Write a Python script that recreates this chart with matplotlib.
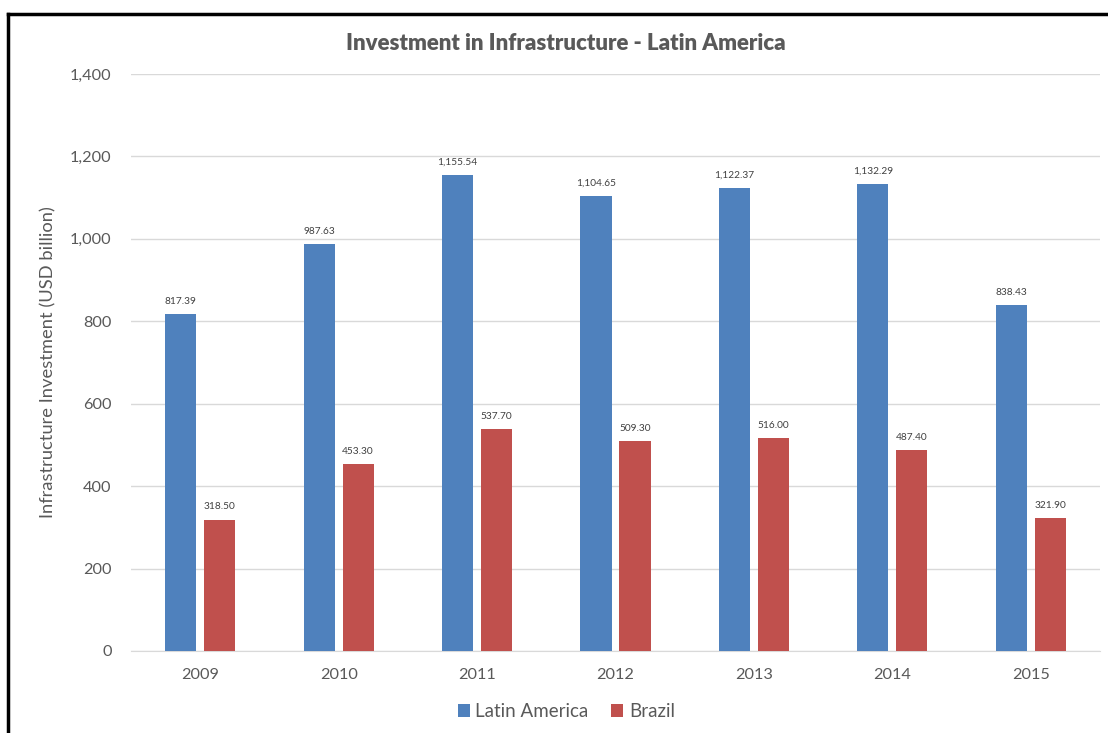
import matplotlib.pyplot as plt
from matplotlib.lines import Line2D
from matplotlib.ticker import FuncFormatter, MultipleLocator
import numpy as np

plt.rcParams["font.family"] = ["Lato", "DejaVu Sans"]

# Data
years = ["2009", "2010", "2011", "2012", "2013", "2014", "2015"]
latin_america = [817.39, 987.63, 1155.54, 1104.65, 1122.37, 1132.29, 838.43]
brazil = [318.50, 453.30, 537.70, 509.30, 516.00, 487.40, 321.90]

BLUE = "#4F81BD"
RED = "#C0504D"
TEXT = "#595959"

fig = plt.figure(figsize=(11.08, 7.33), dpi=100)
ax = fig.add_axes([0.1182, 0.1119, 0.8746, 0.7871])

x = np.arange(len(years))
width = 0.225
off = 0.141

bars_la = ax.bar(x - off, latin_america, width, color=BLUE, label="Latin America", zorder=3)
bars_br = ax.bar(x + off, brazil, width, color=RED, label="Brazil", zorder=3)

for bars, vals in ((bars_la, latin_america), (bars_br, brazil)):
    for b, v in zip(bars, vals):
        ax.annotate(f"{v:,.2f}", (b.get_x() + b.get_width() / 2, v),
                    xytext=(0, 6), textcoords="offset points",
                    ha="center", va="bottom", fontsize=7.3, color="#404040")

ax.set_xlim(-0.5, len(years) - 0.5)
ax.set_ylim(0, 1400)
ax.yaxis.set_major_locator(MultipleLocator(200))
ax.yaxis.set_major_formatter(FuncFormatter(lambda v, p: f"{v:,.0f}"))
ax.set_xticks(x)
ax.set_xticklabels(years)

ax.grid(axis="y", color="#D9D9D9", linewidth=1, zorder=0)
for s in ("top", "right", "left"):
    ax.spines[s].set_visible(False)
ax.spines["bottom"].set_color("#D9D9D9")
ax.tick_params(axis="both", length=0, labelsize=11.7, colors=TEXT)
ax.tick_params(axis="x", pad=12)
ax.tick_params(axis="y", pad=14)

ax.set_ylabel("Infrastructure Investment (USD billion)", fontsize=13.2, color=TEXT, labelpad=10)
fig.text(0.511, 0.941, "Investment in Infrastructure - Latin America",
         ha="center", va="center", fontsize=16, fontweight="heavy", color=TEXT)

fig.legend(loc="center", bbox_to_anchor=(0.511, 0.029), ncol=2, frameon=False,
           fontsize=13.5, labelcolor=TEXT, handlelength=0.65, handleheight=0.65,
           handletextpad=0.3, columnspacing=1.2)

# outer frame (top and left edges)
fig.add_artist(Line2D([8 / 1108, 8 / 1108], [0, 1 - 14 / 733], color="black", lw=2.5,
                      transform=fig.transFigure))
fig.add_artist(Line2D([8 / 1108, 1], [1 - 14 / 733, 1 - 14 / 733], color="black", lw=2.5,
                      transform=fig.transFigure))

fig.savefig("out.png", dpi=100, facecolor="white")
